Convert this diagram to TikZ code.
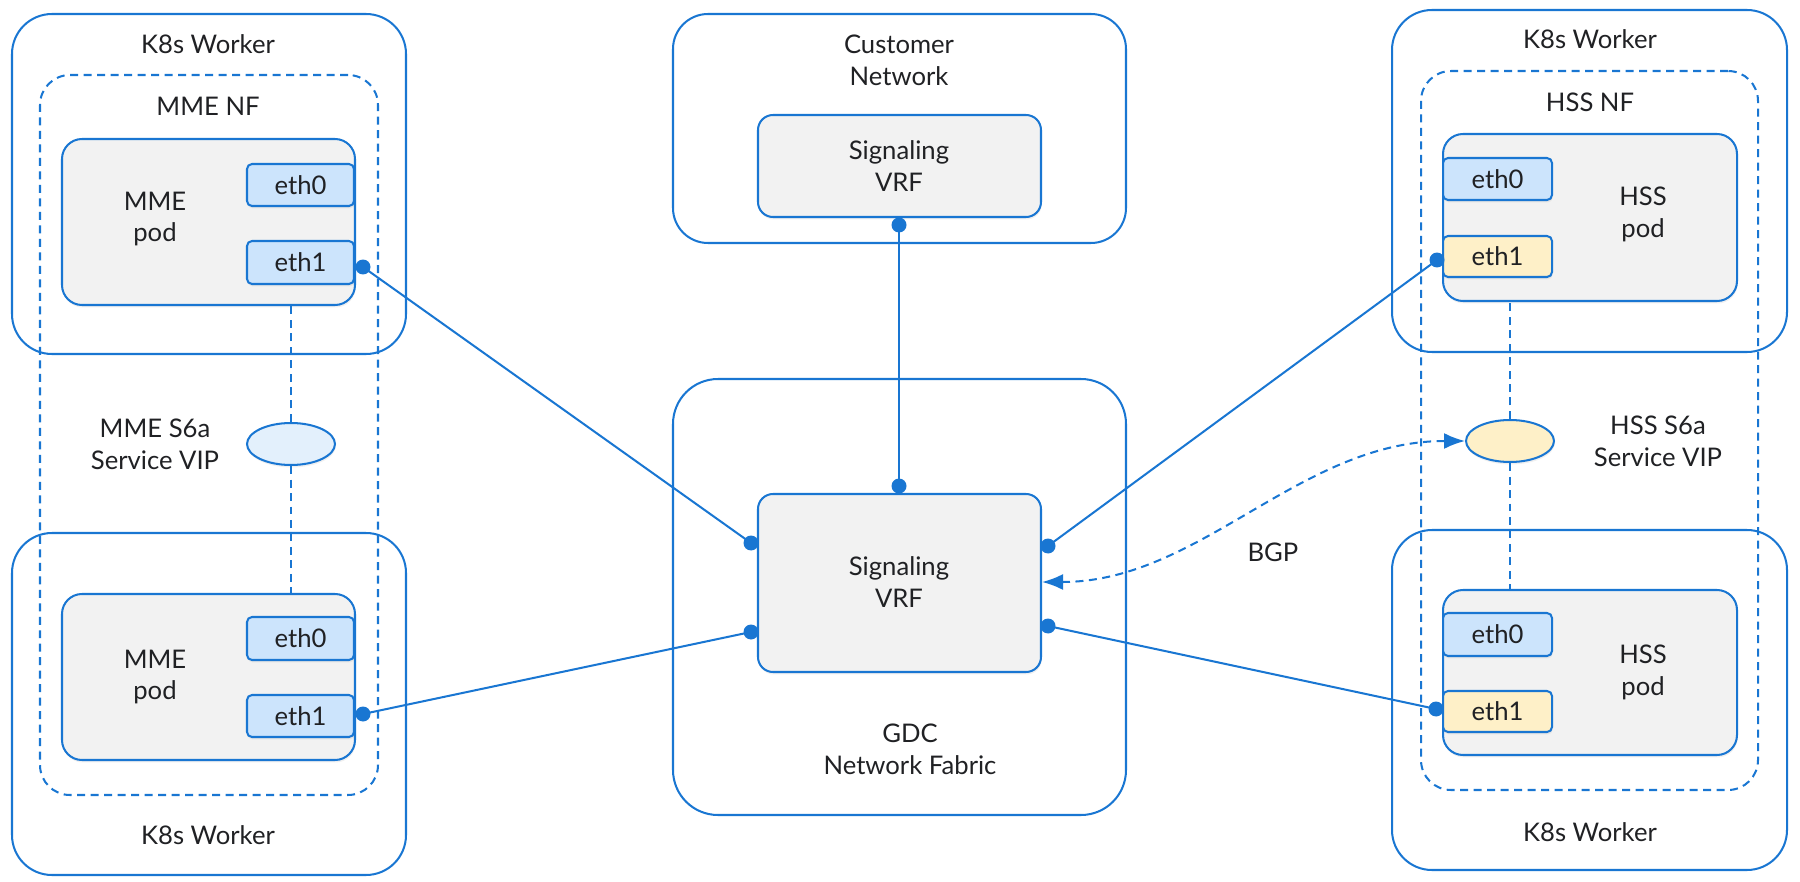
\documentclass[tikz,border=0pt]{standalone}
\usepackage{fontspec}
\setmainfont{Lato}
\usetikzlibrary{shapes.geometric,fit,arrows.meta,shadows}
\definecolor{lblue}{HTML}{1976D2}
\definecolor{txt}{HTML}{202124}
\definecolor{podfill}{HTML}{F2F2F2}
\definecolor{ethblue}{HTML}{CCE4FC}
\definecolor{ethyel}{HTML}{FEF0C8}
\definecolor{vipblue}{HTML}{E3F0FC}
\begin{document}
\begin{tikzpicture}[x=0.02cm,y=-0.02cm,
  every node/.style={text=txt, font=\fontsize{14.6pt}{18.2pt}\selectfont},
  outerbox/.style={draw=lblue, line width=1.15pt, rounded corners=0.8cm, inner sep=0pt},
  nfbox/.style={draw=lblue, line width=1.15pt, dash pattern=on 0.16cm off 0.11cm, rounded corners=0.6cm, inner sep=0pt},
  shad/.style={drop shadow={shadow xshift=0.4pt, shadow yshift=-1.4pt, opacity=0.12}},
  podbox/.style={draw=lblue, fill=podfill, line width=1.15pt, rounded corners=0.4cm, inner sep=0pt, shad},
  vrfbox/.style={draw=lblue, fill=podfill, line width=1.15pt, rounded corners=0.3cm, inner sep=0pt, shad},
  ethbox/.style={draw=lblue, line width=1.15pt, rounded corners=0.1cm, inner sep=0pt, shad},
  vip/.style={ellipse, draw=lblue, line width=1.15pt, minimum width=1.76cm, minimum height=0.84cm, inner sep=0pt, shad},
  lbl/.style={align=center, inner sep=0pt},
  link/.style={draw=lblue, line width=1.15pt},
  dlink/.style={draw=lblue, line width=1.15pt, dash pattern=on 0.16cm off 0.11cm},
  dot/.style={fill=lblue}
]
\useasboundingbox (0,0) rectangle (1800,882);

% ---------- left side ----------
\node[outerbox, fit={(12,14) (406,354)}] (wTL) {};
\node[outerbox, fit={(12,533) (406,875)}] (wBL) {};
\node[nfbox, fit={(40,75) (378,795)}] (nfL) {};
\node[lbl] (wTLt) at (208,44) {K8s Worker};
\node[lbl] (wBLt) at (208,835) {K8s Worker};
\node[lbl] (nfLt) at (208,106) {MME NF};

\node[podbox, fit={(62,139) (355,305)}] (podL1) {};
\node[lbl] (podL1t) at (155,219) {MME\\pod};
\node[ethbox, fill=ethblue, fit={(247,164) (354,206)}] (e0L1) {};
\node[lbl] at (e0L1.center) {eth0};
\node[ethbox, fill=ethblue, fit={(247,241) (354,284)}] (e1L1) {};
\node[lbl] at (e1L1.center) {eth1};

\node[podbox, fit={(62,594) (355,760)}] (podL2) {};
\node[lbl] (podL2t) at (155,677) {MME\\pod};
\node[ethbox, fill=ethblue, fit={(247,617) (354,660)}] (e0L2) {};
\node[lbl] at (e0L2.center) {eth0};
\node[ethbox, fill=ethblue, fit={(247,695) (354,737)}] (e1L2) {};
\node[lbl] at (e1L2.center) {eth1};

\node[vip, fill=vipblue] (vipL) at (291,444) {};
\node[lbl] (vipLt) at (155,444) {MME S6a\\Service VIP};
\draw[dlink] (vipL.north) -- (vipL.north |- podL1.south);
\draw[dlink] (vipL.south) -- (vipL.south |- podL2.north);

% ---------- centre ----------
\node[outerbox, rounded corners=0.7cm, fit={(673,14) (1126,243)}] (cust) {};
\node[lbl] (custt) at (899,60) {Customer\\Network};
\node[vrfbox, fit={(758,115) (1041,217)}] (vrfT) {};
\node[lbl] (vrfTt) at (899,166) {Signaling\\VRF};

\node[outerbox, rounded corners=0.9cm, fit={(673,379) (1126,815)}] (gdc) {};
\node[lbl] (gdct) at (910,749) {GDC\\Network Fabric};
\node[vrfbox, fit={(758,494) (1041,672)}] (vrfC) {};
\node[lbl] (vrfCt) at (899,582) {Signaling\\VRF};

% ---------- right side ----------
\node[outerbox, fit={(1392,10) (1787,352)}] (wTR) {};
\node[outerbox, fit={(1392,530) (1787,870)}] (wBR) {};
\node[nfbox, fit={(1421,71) (1758,790)}] (nfR) {};
\node[lbl] (wTRt) at (1590,39) {K8s Worker};
\node[lbl] (wBRt) at (1590,832) {K8s Worker};
\node[lbl] (nfRt) at (1590,102) {HSS NF};

\node[podbox, fit={(1443,134) (1737,301)}] (podR1) {};
\node[lbl] (podR1t) at (1643,214) {HSS\\pod};
\node[ethbox, fill=ethblue, fit={(1443,158) (1552,200)}] (e0R1) {};
\node[lbl] at (e0R1.center) {eth0};
\node[ethbox, fill=ethyel, fit={(1443,236) (1552,277)}] (e1R1) {};
\node[lbl] at (e1R1.center) {eth1};

\node[podbox, fit={(1443,590) (1737,755)}] (podR2) {};
\node[lbl] (podR2t) at (1643,672) {HSS\\pod};
\node[ethbox, fill=ethblue, fit={(1443,613) (1552,656)}] (e0R2) {};
\node[lbl] at (e0R2.center) {eth0};
\node[ethbox, fill=ethyel, fit={(1443,691) (1552,732)}] (e1R2) {};
\node[lbl] at (e1R2.center) {eth1};

\node[vip, fill=ethyel] (vipR) at (1510,441) {};
\node[lbl] (vipRt) at (1658,441) {HSS S6a\\Service VIP};
\draw[dlink] (vipR.north) -- (vipR.north |- podR1.south);
\draw[dlink] (vipR.south) -- (vipR.south |- podR2.north);

% ---------- connection points ----------
\coordinate (pL1) at (363,267);
\coordinate (pL2) at (363,714);
\coordinate (pR1) at (1437,260);
\coordinate (pR2) at (1436,709);
\coordinate (pT)  at (899,225);
\coordinate (cT)  at (899,486);
\coordinate (cL1) at (751,543);
\coordinate (cL2) at (751,632);
\coordinate (cR1) at (1048,546);
\coordinate (cR2) at (1048,626);
\coordinate (bgpA) at (1042,582);

\draw[link] (pT) -- (cT);
\draw[link] (pL1) -- (cL1);
\draw[link] (pL2) -- (cL2);
\draw[link] (cR1) -- (pR1);
\draw[link] (cR2) -- (pR2);
\foreach \p in {pL1,pL2,pR1,pR2,pT,cT,cL1,cL2,cR1,cR2}
  \fill[dot] (\p) circle (0.15cm);

\draw[dlink, {Latex[length=0.42cm,width=0.32cm]}-{Latex[length=0.42cm,width=0.32cm]}]
  (bgpA) .. controls (1200,582) and (1300,441) .. (vipR.west);
\node[lbl] (bgpt) at (1273,552) {BGP};
\end{tikzpicture}
\end{document}
